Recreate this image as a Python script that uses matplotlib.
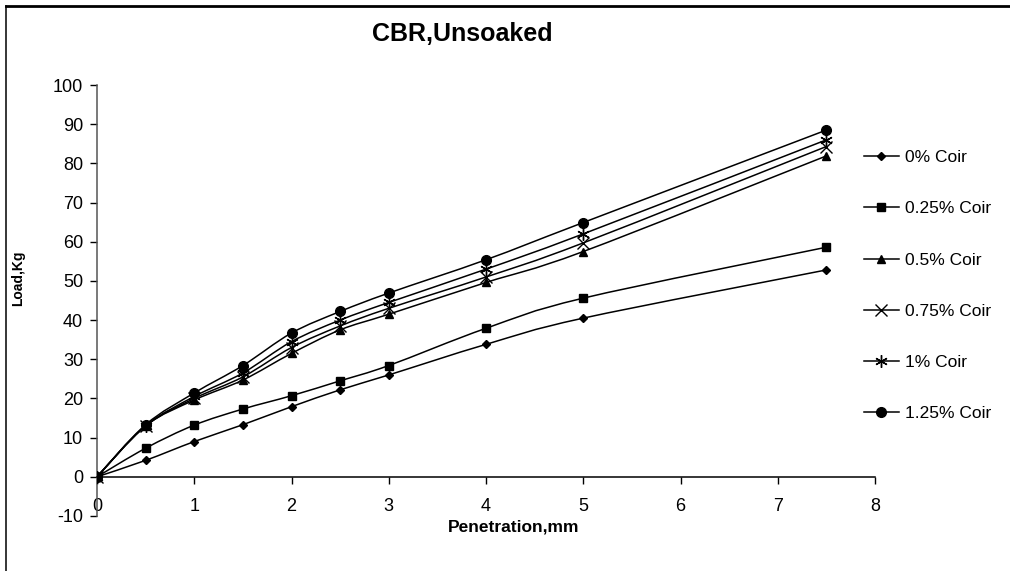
import numpy as np
import matplotlib
matplotlib.use("Agg")
import matplotlib.pyplot as plt
from matplotlib.path import Path
from matplotlib.patches import PathPatch
from matplotlib.lines import Line2D

plt.rcParams["font.family"] = ["Liberation Sans", "DejaVu Sans"]
plt.rcParams["axes.unicode_minus"] = False

# Penetration (mm) and load (kg) for each coir content
penetration = [0, 0.5, 1, 1.5, 2, 2.5, 3, 4, 5, 7.5]
coir_0 = [0, 4.2, 9.0, 13.3, 17.9, 22.2, 26.0, 33.8, 40.5, 52.8]
coir_025 = [0, 7.3, 13.2, 17.3, 20.7, 24.5, 28.4, 37.9, 45.6, 58.6]
coir_05 = [0, 13.0, 19.6, 24.7, 31.5, 37.5, 41.5, 49.6, 57.5, 81.9]
coir_075 = [0, 13.0, 20.0, 25.5, 33.0, 38.5, 43.0, 51.0, 59.7, 84.3]
coir_1 = [0, 13.0, 20.5, 26.5, 34.5, 40.0, 44.5, 53.0, 62.0, 86.0]
coir_125 = [0, 13.3, 21.4, 28.4, 36.7, 42.2, 46.9, 55.4, 64.9, 88.5]

labels = ["0% Coir", "0.25% Coir", "0.5% Coir", "0.75% Coir", "1% Coir", "1.25% Coir"]
series = [coir_0, coir_025, coir_05, coir_075, coir_1, coir_125]
markers = ["D", "s", "^", "x", (6, 2, 0), "o"]
msizes = [4.5, 5.5, 6, 8, 9, 7]

x_ticks = [0, 1, 2, 3, 4, 5, 6, 7, 8]
y_ticks = [-10, 0, 10, 20, 30, 40, 50, 60, 70, 80, 90, 100]

W, H = 1010, 571
fig = plt.figure(figsize=(W / 100, H / 100), dpi=100)
ax = fig.add_axes([97 / W, 1 - 516 / H, 778 / W, 431 / H])


def smooth_path(xs, ys):
    """Cubic Bezier through the points (spreadsheet-style smoothed line)."""
    pts = np.column_stack([xs, ys]).astype(float)
    n = len(pts)
    verts = [pts[0]]
    codes = [Path.MOVETO]
    for i in range(n - 1):
        p0 = pts[i - 1] if i > 0 else pts[i]
        p1 = pts[i]
        p2 = pts[i + 1]
        p3 = pts[i + 2] if i + 2 < n else pts[i + 1]
        c1 = p1 + (p2 - p0) / 6.0
        c2 = p2 - (p3 - p1) / 6.0
        verts += [c1, c2, p2]
        codes += [Path.CURVE4] * 3
    return Path(verts, codes)


for ys, lab, mk, ms in zip(series, labels, markers, msizes):
    ax.add_patch(PathPatch(smooth_path(penetration, ys), fill=False,
                           edgecolor="black", linewidth=1.1, zorder=2))
    ax.plot(penetration, ys, linestyle="none", marker=mk, markersize=ms,
            color="black", markeredgewidth=1.0, zorder=3)

ax.set_xlim(0, 8)
ax.set_ylim(-10, 100)
ax.set_xticks(x_ticks)
ax.set_yticks(y_ticks)

for s in ["top", "right"]:
    ax.spines[s].set_visible(False)
ax.spines["bottom"].set_position(("data", 0))
ax.spines["bottom"].set_linewidth(1.1)
ax.spines["left"].set_color("#555555")
ax.spines["left"].set_linewidth(1.1)

ax.tick_params(axis="y", direction="out", length=5, width=1, pad=5,
               labelsize=13, colors="black")
ax.tick_params(axis="x", direction="out", length=5, width=1, pad=10,
               labelsize=13, colors="black")

ax.set_facecolor("none")

fig.text(462 / W, 1 - 34 / H, "CBR,Unsoaked", ha="center", va="center",
         fontsize=18, fontweight="bold")
fig.text(18 / W, 1 - 278 / H, "Load,Kg", ha="center", va="center",
         rotation=90, fontsize=10, fontweight="bold")
fig.text(514 / W, 1 - 527 / H, "Penetration,mm", ha="center", va="center",
         fontsize=12.5, fontweight="bold")

handles = [Line2D([], [], color="black", linewidth=1.1, marker=mk,
                  markersize=ms, markeredgewidth=1.0)
           for mk, ms in zip(markers, msizes)]
fig.legend(handles, labels, loc="upper left",
           bbox_to_anchor=(864 / W, 1 - 150 / H), frameon=False,
           fontsize=12.5, labelspacing=2.08, handlelength=2.0,
           handletextpad=0.35, borderpad=0, borderaxespad=0)

# Chart-area border (left and top edges)
fig.add_artist(Line2D([6 / W, 6 / W], [0, 1 - 6 / H], color="black",
                      linewidth=1.1, transform=fig.transFigure))
fig.add_artist(Line2D([6 / W, 1], [1 - 6 / H, 1 - 6 / H], color="black",
                      linewidth=2.0, transform=fig.transFigure))

fig.savefig("out.png", dpi=100, facecolor="white")
